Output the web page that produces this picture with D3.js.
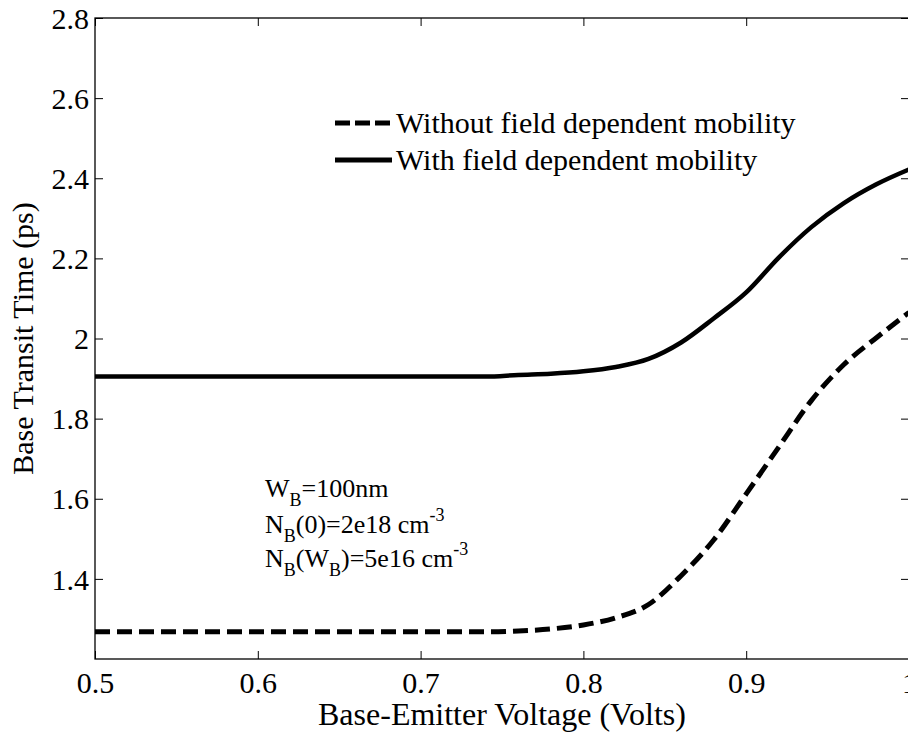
<!DOCTYPE html>
<html>
<head>
<meta charset="utf-8">
<script src="https://cdn.jsdelivr.net/npm/d3@7"></script>
<style>
  html, body { margin: 0; padding: 0; background: #fff; }
  svg { display: block; font-family: "Liberation Serif", "Times New Roman", serif; }
</style>
</head>
<body>
<svg id="chart" width="908" height="733"></svg>
<script>
// Base-emitter voltage sweep (V)
const vbe = [0.50, 0.52, 0.54, 0.56, 0.58, 0.60, 0.62, 0.64, 0.66, 0.68, 0.70, 0.72, 0.74,
             0.76, 0.78, 0.80, 0.82, 0.84, 0.86, 0.88, 0.90, 0.92, 0.94, 0.96, 0.98, 1.00];

// Base transit time (ps) without field dependent mobility
const tauConst = [1.268, 1.268, 1.268, 1.268, 1.268, 1.268, 1.268, 1.268, 1.268, 1.268, 1.268, 1.268, 1.268,
                  1.270, 1.275, 1.285, 1.303, 1.336, 1.408, 1.497, 1.612, 1.729, 1.845, 1.935, 2.002, 2.065];

// Base transit time (ps) with field dependent mobility
const tauField = [1.905, 1.905, 1.905, 1.905, 1.905, 1.905, 1.905, 1.905, 1.905, 1.905, 1.905, 1.905, 1.905,
                  1.909, 1.912, 1.918, 1.929, 1.949, 1.990, 2.050, 2.115, 2.202, 2.278, 2.338, 2.385, 2.422];

const xTicks = [0.5, 0.6, 0.7, 0.8, 0.9, 1.0];
const xTickLabels = ["0.5", "0.6", "0.7", "0.8", "0.9", "1"];
const yTicks = [1.4, 1.6, 1.8, 2.0, 2.2, 2.4, 2.6, 2.8];
const yTickLabels = ["1.4", "1.6", "1.8", "2", "2.2", "2.4", "2.6", "2.8"];

const seriesNames = ["Without field dependent mobility", "With field dependent mobility"];
const xLabel = "Base-Emitter Voltage (Volts)";
const yLabel = "Base Transit Time (ps)";

const svg = d3.select("#chart");
const L = 95, R = 909, T = 18, B = 659;

const x = d3.scaleLinear().domain([0.5, 1.0]).range([L, R]);
const y = d3.scaleLinear().domain([1.2, 2.8]).range([B, T]);

svg.append("defs").append("clipPath").attr("id", "plotclip")
  .append("rect").attr("x", L).attr("y", T).attr("width", R - L).attr("height", B - T);

// Axes box
svg.append("rect").attr("x", L).attr("y", T).attr("width", R - L).attr("height", B - T)
  .attr("fill", "none").attr("stroke", "#000").attr("stroke-width", 1.3);

const tickLen = 8;
const fs = 30;

// Bottom / top x axes (ticks pointing inward)
const xAxisB = d3.axisBottom(x).tickValues(xTicks).tickSize(-tickLen)
  .tickFormat((d, i) => xTickLabels[i]).tickPadding(13);
const gx = svg.append("g").attr("transform", `translate(0,${B})`).call(xAxisB);
const xAxisT = d3.axisTop(x).tickValues(xTicks).tickSize(-tickLen).tickFormat("");
const gxt = svg.append("g").attr("transform", `translate(0,${T})`).call(xAxisT);

// Left / right y axes
const yAxisL = d3.axisLeft(y).tickValues(yTicks).tickSize(-tickLen)
  .tickFormat((d, i) => yTickLabels[i]).tickPadding(6);
const gy = svg.append("g").attr("transform", `translate(${L},0)`).call(yAxisL);
const yAxisR = d3.axisRight(y).tickValues(yTicks).tickSize(-tickLen).tickFormat("");
const gyr = svg.append("g").attr("transform", `translate(${R},0)`).call(yAxisR);

[gx, gxt, gy, gyr].forEach(g => {
  g.select(".domain").remove();
  g.selectAll(".tick line").attr("stroke", "#000").attr("stroke-width", 1);
  g.selectAll(".tick text").attr("fill", "#000")
    .style("font-family", "'Liberation Serif', 'Times New Roman', serif")
    .style("font-size", fs + "px");
});
gx.selectAll(".tick text").attr("dy", "0.71em");
gy.selectAll(".tick text").attr("dy", "0.34em");

// Axis titles
svg.append("text").attr("x", (L + R) / 2).attr("y", 725)
  .attr("text-anchor", "middle").style("font-size", "32px").text(xLabel);
svg.append("text").attr("transform", `translate(33,${(T + B) / 2}) rotate(-90)`)
  .attr("text-anchor", "middle").style("font-size", "30px").text(yLabel);

// Curves
const line = d3.line().x(d => x(d[0])).y(d => y(d[1])).curve(d3.curveMonotoneX);
const plot = svg.append("g").attr("clip-path", "url(#plotclip)");
plot.append("path").datum(vbe.map((v, i) => [v, tauField[i]]))
  .attr("d", line).attr("fill", "none").attr("stroke", "#000").attr("stroke-width", 4.5)
  .attr("stroke-linejoin", "round");
plot.append("path").datum(vbe.map((v, i) => [v, tauConst[i]]))
  .attr("d", line).attr("fill", "none").attr("stroke", "#000").attr("stroke-width", 5)
  .attr("stroke-dasharray", "15,7");

// Legend
const leg = svg.append("g");
const legRows = [
  { name: seriesNames[0], dash: "15,5", y: 123 },
  { name: seriesNames[1], dash: null, y: 160 }
];
legRows.forEach(r => {
  leg.append("line").attr("x1", 335).attr("x2", 392).attr("y1", r.y).attr("y2", r.y)
    .attr("stroke", "#000").attr("stroke-width", 5)
    .attr("stroke-dasharray", r.dash);
  leg.append("text").attr("x", 396).attr("y", r.y).attr("dy", "0.33em")
    .style("font-size", "30px").text(r.name);
});

// Device parameters annotation
const ann = svg.append("g").style("font-size", "26px");
const sub = "18px";
const dn = 9, up = 12;
const a1 = ann.append("text").attr("x", 265).attr("y", 497);
a1.append("tspan").text("W");
a1.append("tspan").attr("dy", dn).style("font-size", sub).text("B");
a1.append("tspan").attr("dy", -dn).text("=100nm");

const a2 = ann.append("text").attr("x", 265).attr("y", 533);
a2.append("tspan").text("N");
a2.append("tspan").attr("dy", dn).style("font-size", sub).text("B");
a2.append("tspan").attr("dy", -dn).text("(0)=2e18 cm");
a2.append("tspan").attr("dy", -up).style("font-size", sub).text("-3");

const a3 = ann.append("text").attr("x", 265).attr("y", 567);
a3.append("tspan").text("N");
a3.append("tspan").attr("dy", dn).style("font-size", sub).text("B");
a3.append("tspan").attr("dy", -dn).text("(W");
a3.append("tspan").attr("dy", dn).style("font-size", sub).text("B");
a3.append("tspan").attr("dy", -dn).text(")=5e16 cm");
a3.append("tspan").attr("dy", -up).style("font-size", sub).text("-3");
</script>
</body>
</html>
